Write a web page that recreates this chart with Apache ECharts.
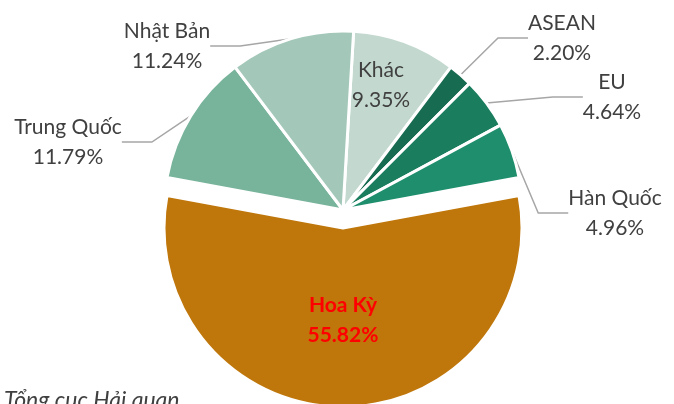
<!DOCTYPE html>
<html>
<head>
<meta charset="utf-8">
<script src="https://cdn.jsdelivr.net/npm/echarts@6/dist/echarts.min.js"></script>
<style>
html, body { margin: 0; padding: 0; background: #fff; }
#chart { width: 674px; height: 404px; }
</style>
</head>
<body>
<div id="chart"></div>
<script>
// thị trường, theo chiều kim đồng hồ từ đỉnh
var names = ['Khác', 'ASEAN', 'EU', 'Hàn Quốc', 'Hoa Kỳ', 'Trung Quốc', 'Nhật Bản'];
var shares = [9.35, 2.20, 4.64, 4.96, 55.82, 11.79, 11.24];
var colors = ['#C3D9CF', '#176B50', '#1A7D5E', '#1E8E6C', '#BF760A', '#78B39B', '#A3C7B8'];

// vị trí nhãn (tâm khối chữ)
var labelPos = {
	0: [381, 85],
	1: [562, 38],
	2: [612, 97],
	3: [615, 213],
	4: [343, 321],
	5: [68, 142],
	6: [167, 46]
};

var myChart = echarts.init(document.getElementById('chart'));

var data = names.map(function(n, i) {
	var item = {
		name: n,
		value: shares[i],
		itemStyle: { color: colors[i] }
	};
	if (n === 'Hoa Kỳ') {
		item.selected = true;
		item.label = {
			position: 'inside',
			color: '#FF0000',
			fontWeight: 'bold'
		};
		item.labelLine = { show: false };
	}
	if (n === 'Khác') {
		item.label = { position: 'inside' };
		item.labelLine = { show: false };
	}
	return item;
});

var option = {
	animation: false,
	graphic: [{
		type: 'text',
		left: 4,
		top: 389,
		style: {
			text: 'Tổng cục Hải quan',
			font: 'italic 23px Lato',
			fill: '#404040'
		}
	}],
	series: [{
		type: 'pie',
		radius: 179,
		center: [343, 210],
		startAngle: 86.6,
		clockwise: true,
		selectedMode: 'single',
		selectedOffset: 18,
		data: data,
		itemStyle: {
			borderColor: '#fff',
			borderWidth: 3
		},
		label: {
			formatter: function(p) { return p.name + '\n' + p.value.toFixed(2) + '%'; },
			fontFamily: 'Lato',
			fontSize: 21,
			lineHeight: 30,
			color: '#404040',
			align: 'center'
		},
		labelLine: {
			show: true,
			length: 20,
			length2: 30,
			lineStyle: { color: '#A6A6A6', width: 1.5 }
		},
		labelLayout: function(p) {
			var pos = labelPos[p.dataIndex];
			return {
				x: pos[0],
				y: pos[1],
				align: 'center',
				verticalAlign: 'middle'
			};
		}
	}]
};

myChart.setOption(option);
</script>
</body>
</html>
